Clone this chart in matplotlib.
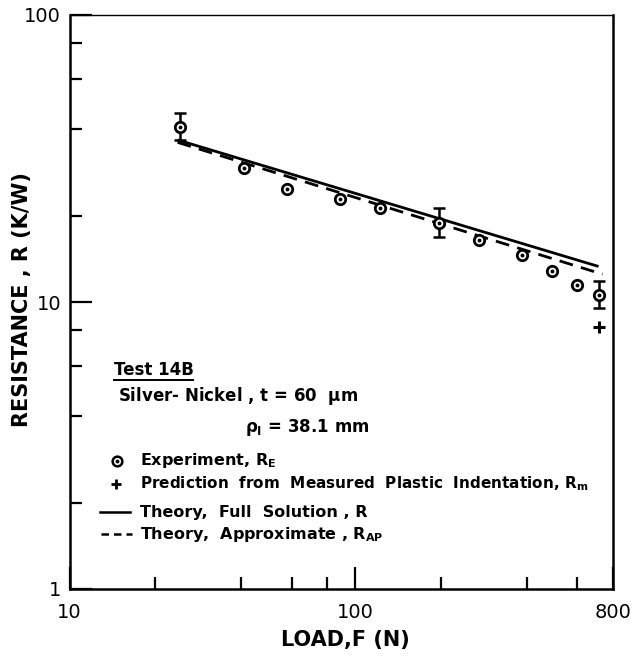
import matplotlib
matplotlib.use("Agg")
import matplotlib.pyplot as plt
from matplotlib.ticker import FixedLocator, NullFormatter, FixedFormatter

# ---- data ----
load_exp = [24.4, 40.7, 57.7, 88.9, 122.7, 196.7, 271.6, 385.6, 489, 598, 714]
res_exp = [40.6, 29.4, 24.7, 22.8, 21.2, 18.9, 16.5, 14.6, 12.8, 11.5, 10.6]

err_load = [24.4, 196.7, 714]
err_res = [40.6, 18.9, 10.6]
err_low = [36.7, 16.8, 9.5]
err_high = [45.7, 21.3, 11.8]

load_pred = [714]
res_pred = [8.2]

load_full = [23.9, 712]
res_full = [36.7, 13.3]

load_approx = [23.9, 735]
res_approx = [36.0, 12.5]

xtick_vals = [10, 100, 800]
xtick_labels = ["10", "100", "800"]
xminor_vals = [20, 40, 60, 80, 200, 400, 600]
ytick_vals = [1, 10, 100]
ytick_labels = ["1", "10", "100"]
yminor_vals = [2, 4, 6, 8, 20, 40, 60, 80]

plt.rcParams['font.family'] = ['DejaVu Sans']
plt.rcParams['mathtext.fontset'] = 'custom'
plt.rcParams['mathtext.rm'] = 'DejaVu Sans:bold'
plt.rcParams['mathtext.it'] = 'DejaVu Sans:bold'
plt.rcParams['mathtext.bf'] = 'DejaVu Sans:bold'

W, H = 632, 662
fig = plt.figure(figsize=(W / 100, H / 100), dpi=100)
ax = fig.add_axes([69.5 / W, 1 - 589 / H, (613 - 69.5) / W, (589 - 15) / H])
ax.set_xscale('log')
ax.set_yscale('log')
ax.set_xlim(10, 800)
ax.set_ylim(1, 100)

# theory lines
ax.plot(load_full, res_full, color='black', lw=2.0, solid_capstyle='butt')
ax.plot(load_approx, res_approx, color='black', lw=2.0, dashes=(5, 3))

# error bars
yerr = [[r - lo for r, lo in zip(err_res, err_low)],
        [hi - r for r, hi in zip(err_res, err_high)]]
ax.errorbar(err_load, err_res, yerr=yerr, fmt='none', ecolor='black',
            elinewidth=1.8, capsize=4.5, capthick=1.8, zorder=3)

# experiment markers (circle with a dot)
ax.plot(load_exp, res_exp, linestyle='none', marker='o', markersize=7.5,
        markerfacecolor='white', markeredgecolor='black', markeredgewidth=2.0, zorder=4)
ax.plot(load_exp, res_exp, linestyle='none', marker='o', markersize=1.8,
        markerfacecolor='black', markeredgecolor='black', zorder=5)

# prediction
ax.plot(load_pred, res_pred, linestyle='none', marker='+', markersize=8,
        markeredgewidth=2.2, color='black', zorder=4)

# ticks
ax.xaxis.set_major_locator(FixedLocator(xtick_vals))
ax.xaxis.set_major_formatter(FixedFormatter(xtick_labels))
ax.xaxis.set_minor_locator(FixedLocator(xminor_vals))
ax.xaxis.set_minor_formatter(NullFormatter())
ax.yaxis.set_major_locator(FixedLocator(ytick_vals))
ax.yaxis.set_major_formatter(FixedFormatter(ytick_labels))
ax.yaxis.set_minor_locator(FixedLocator(yminor_vals))
ax.yaxis.set_minor_formatter(NullFormatter())

ax.tick_params(which='both', direction='in', top=False, right=False, width=1.6)
ax.tick_params(which='major', length=16, labelsize=14, pad=10)
ax.tick_params(which='minor', length=8.5)
ax.tick_params(axis='y', which='major', pad=6)
for s in ax.spines.values():
    s.set_linewidth(1.8)
ax.spines['top'].set_linewidth(1.0)

ax.set_xlabel('LOAD,F (N)', fontsize=15, fontweight='bold')
ax.xaxis.set_label_coords((345 - 69.5) / (613 - 69.5), -(640 - 589) / (589 - 15))
ax.set_ylabel('RESISTANCE , R (K/W)', fontsize=15, fontweight='bold')
ax.yaxis.set_label_coords(-(69.5 - 22) / (613 - 69.5), (589 - 300) / (589 - 15))
ax.xaxis.label.set_va('center')
ax.yaxis.label.set_va('center')

# annotation block (pixel coordinates of reference converted to figure fraction)
def fx(px):
    return px / W

def fy(py):
    return 1 - py / H

tk = dict(fontweight='bold', va='center', ha='left')
fig.text(fx(114), fy(370), 'Test 14B', fontsize=12, **tk)
fig.add_artist(plt.Line2D([fx(114), fx(193)], [fy(380), fy(380)], color='black', lw=1.4))
fig.text(fx(118), fy(396), 'Silver- Nickel , t = 60  $\\mu$m', fontsize=12, **tk)
fig.text(fx(245), fy(427), '$\\rho_I$ = 38.1 mm', fontsize=12, **tk)

fig.add_artist(plt.Line2D([fx(117)], [fy(461)], marker='o', markersize=7, markerfacecolor='white',
                          markeredgecolor='black', markeredgewidth=1.8))
fig.add_artist(plt.Line2D([fx(117)], [fy(461)], marker='o', markersize=1.8, color='black'))
fig.text(fx(140), fy(461), 'Experiment, R$_E$', fontsize=11.5, **tk)

fig.add_artist(plt.Line2D([fx(116)], [fy(484)], marker='+', markersize=7, markeredgewidth=2,
                          color='black'))
fig.text(fx(140), fy(484), 'Prediction  from  Measured  Plastic  Indentation, R$_m$',
         fontsize=11, **tk)

fig.add_artist(plt.Line2D([fx(100), fx(130)], [fy(512), fy(512)], color='black', lw=1.8))
fig.text(fx(140), fy(512), 'Theory,  Full  Solution , R', fontsize=11.5, **tk)

fig.add_artist(plt.Line2D([fx(101), fx(132)], [fy(534), fy(534)], color='black', lw=1.8,
                          dashes=(3, 2)))
fig.text(fx(140), fy(534), 'Theory,  Approximate , R$_{AP}$', fontsize=11.5, **tk)

fig.savefig('out.png', dpi=100)
